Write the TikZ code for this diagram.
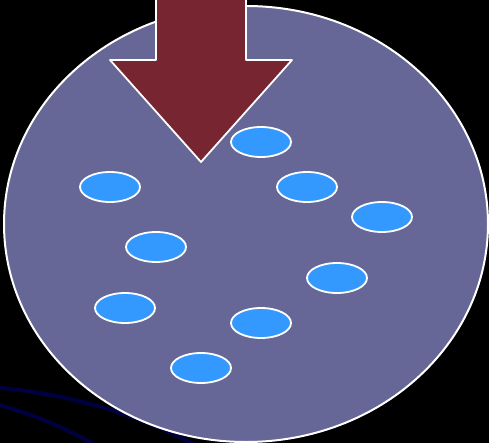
\documentclass[tikz,border=0pt]{standalone}
\usepackage{xcolor}
\usepackage{tikz}
\usetikzlibrary{shapes.geometric}

\definecolor{slate}{HTML}{676797}
\definecolor{wine}{HTML}{772530}
\definecolor{sky}{HTML}{3399FF}
\definecolor{navy}{HTML}{000040}

\begin{document}
\begin{tikzpicture}[x=1pt, y=-1pt, line cap=round, line join=round]
    % --- background ---
    \fill[black] (0,0) rectangle (489,443);
    \useasboundingbox (0,0) rectangle (489,443);
    \clip (0,0) rectangle (489,443);
    % faint curves
    \draw[navy, line width=4pt] (0,388) .. controls (80,395) and (150,420) .. (195,445);
    \draw[navy, line width=4pt] (0,405) .. controls (35,415) and (70,430) .. (95,445);

    % --- big disc ---
    \draw[white, line width=2pt, fill=slate] (246,224) ellipse (242 and 218);

    % arrow
    \draw[white, line width=1.8pt, fill=wine]
      (156,-5)--(156,60)--(110,60)--(201,162)--(292,60)--(246,60)--(246,-5);

    % small ellipses
    \foreach \n/\x/\y in {a/261/142, b/110/187, c/307/187, d/382/217, e/156/247,
                          f/337/278, g/125/308, h/261/323, i/201/368}{
      \node[ellipse, draw=white, line width=1.8pt, fill=sky,
            minimum width=60pt, minimum height=30pt, inner sep=0pt] (\n) at (\x,\y) {};
    }
  \end{tikzpicture}
\end{document}
